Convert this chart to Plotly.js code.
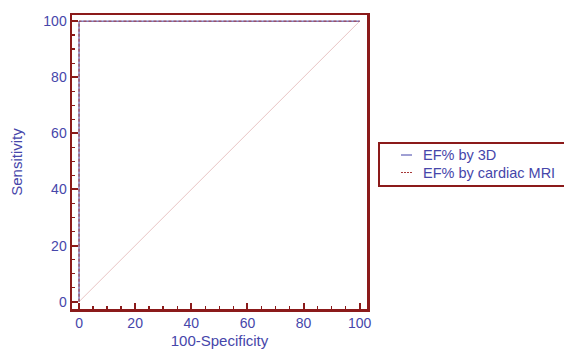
<!DOCTYPE html>
<html>
<head>
<meta charset="utf-8">
<script src="https://cdn.plot.ly/plotly-3.0.1.min.js"></script>
<style>html,body{margin:0;padding:0;background:#fff;}#chart{width:564px;height:349px;}</style>
</head>
<body>
<div id="chart"></div>
<script>
// Data
const seriesNames = ["EF% by 3D", "EF% by cardiac MRI"];
const roc3dX = [0, 0, 100];
const roc3dY = [0, 100, 100];
const rocMriX = [0, 0, 100];
const rocMriY = [0, 100, 100];
const diagX = [0, 100];
const diagY = [0, 100];
const tickVals = [0, 20, 40, 60, 80, 100];

const frameColor = '#8b1a1a';
const textColor = '#4646aa';
const blue = '#4040a8';
const red = '#a83a3a';
const font = 'Liberation Sans, Arial, sans-serif';

const traces = [
  {x: diagX, y: diagY, mode: 'lines', line: {color: '#e8c4c4', width: 1}, showlegend: false, hoverinfo: 'skip'},
  {x: roc3dX, y: roc3dY, mode: 'lines', name: seriesNames[0], line: {color: blue, width: 1}, showlegend: false},
  {x: rocMriX, y: rocMriY, mode: 'lines', name: seriesNames[1], line: {color: red, width: 1, dash: '3px,2px'}, showlegend: false}
];

const L = 72, R = 367, T = 15, B = 309;
const px = p => (p - L) / (R - L);
const py = q => (B - q) / (B - T);

const axisCommon = {
  showline: true, mirror: true, linecolor: frameColor, linewidth: 2.5,
  ticks: 'inside', ticklen: 6, tickwidth: 2, tickcolor: frameColor,
  tickvals: tickVals, showgrid: false, zeroline: false,
  tickfont: {family: font, size: 14, color: textColor},
  minor: {dtick: 5, ticks: 'inside', ticklen: 3, tickwidth: 1.5, tickcolor: frameColor, showgrid: false},
  fixedrange: true
};

const layout = {
  width: 564, height: 349,
  margin: {l: L, r: 564 - R, t: T, b: 349 - B, autoexpand: false},
  paper_bgcolor: '#fff', plot_bgcolor: '#fff',
  showlegend: false,
  xaxis: Object.assign({}, axisCommon, {range: [-2.5, 102.6], title: {text: '100-Specificity', font: {family: font, size: 15, color: textColor}, standoff: 8}}),
  yaxis: Object.assign({}, axisCommon, {range: [-2.6, 102.2], title: {text: 'Sensitivity', font: {family: font, size: 15, color: textColor}, standoff: 17}}),
  shapes: [
    {type: 'rect', xref: 'paper', yref: 'paper', x0: px(379), x1: px(590), y0: py(186), y1: py(143), line: {color: frameColor, width: 2}, fillcolor: 'rgba(0,0,0,0)'},
    {type: 'line', xref: 'paper', yref: 'paper', x0: px(401), x1: px(412), y0: py(155), y1: py(155), line: {color: blue, width: 1}},
    {type: 'line', xref: 'paper', yref: 'paper', x0: px(401), x1: px(412), y0: py(172.5), y1: py(172.5), line: {color: red, width: 1, dash: '2px,1px'}}
  ],
  annotations: [
    {xref: 'paper', yref: 'paper', x: px(421), y: py(155), xanchor: 'left', yanchor: 'middle', text: seriesNames[0], showarrow: false, font: {family: font, size: 14.5, color: textColor}},
    {xref: 'paper', yref: 'paper', x: px(421), y: py(172.5), xanchor: 'left', yanchor: 'middle', text: seriesNames[1], showarrow: false, font: {family: font, size: 14.5, color: textColor}}
  ]
};

Plotly.newPlot('chart', traces, layout, {displayModeBar: false, staticPlot: true});
</script>
</body>
</html>
